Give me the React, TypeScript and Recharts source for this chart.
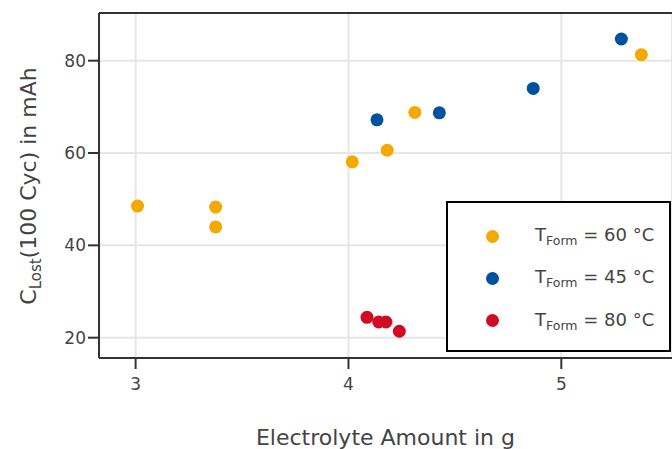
import {
  CartesianGrid,
  Legend,
  ReferenceLine,
  Scatter,
  ScatterChart,
  XAxis,
  YAxis,
} from 'recharts';

const FORM_60 = [
  { x: 3.009, y: 48.5 },
  { x: 3.376, y: 48.3 },
  { x: 3.376, y: 44.0 },
  { x: 4.018, y: 58.1 },
  { x: 4.182, y: 60.6 },
  { x: 4.312, y: 68.8 },
  { x: 5.376, y: 81.3 },
];

const FORM_45 = [
  { x: 4.134, y: 67.2 },
  { x: 4.427, y: 68.7 },
  { x: 4.868, y: 74.0 },
  { x: 5.282, y: 84.7 },
];

const FORM_80 = [
  { x: 4.087, y: 24.4 },
  { x: 4.142, y: 23.4 },
  { x: 4.176, y: 23.4 },
  { x: 4.239, y: 21.4 },
];

const X_TICKS = [3, 4, 5];
const Y_TICKS = [20, 40, 60, 80];

const SERIES = [
  { name: '60 °C', data: FORM_60, color: '#f5a800' },
  { name: '45 °C', data: FORM_45, color: '#00519e' },
  { name: '80 °C', data: FORM_80, color: '#d00b23' },
];

const FONT = '"DejaVu Sans", Verdana, sans-serif';
const TEXT = '#444';
const AXIS = '#333';

const Dot = (props: any) => {
  const { cx, cy, fill } = props;
  return <circle cx={cx} cy={cy} r={6.5} fill={fill} />;
};

const LegendBox = () => (
  <div
    style={{
      position: 'absolute',
      left: 446,
      top: 201,
      width: 221,
      height: 147,
      border: '2px solid #000',
      background: '#fff',
      fontFamily: FONT,
      color: TEXT,
    }}
  >
    {SERIES.map((s, i) => (
      <div
        key={s.name}
        style={{
          position: 'absolute',
          left: 0,
          top: 20 + i * 42.3,
          height: 26,
          display: 'flex',
          alignItems: 'center',
        }}
      >
        <span
          style={{
            position: 'absolute',
            left: 38,
            width: 13,
            height: 13,
            borderRadius: '50%',
            background: s.color,
          }}
        />
        <span style={{ position: 'absolute', left: 87, fontSize: 18, whiteSpace: 'nowrap' }}>
          T<sub style={{ fontSize: 12.5, verticalAlign: '-4px' }}>Form</sub> = {s.name}
        </span>
      </div>
    ))}
  </div>
);

const YLabel = () => (
  <text
    x={0}
    y={0}
    transform="translate(36, 186) rotate(-90)"
    textAnchor="middle"
    fill={TEXT}
    fontFamily={FONT}
    fontSize={22}
  >
    C<tspan fontSize={15} dy={5}>Lost</tspan>
    <tspan dy={-5}>(100 Cyc) in mAh</tspan>
  </text>
);

export default function App() {
  return (
    <div style={{ position: 'absolute', left: 0, top: 0, background: '#fff' }}>
      <ScatterChart
        width={672}
        height={449}
        margin={{ top: 13, right: 0, bottom: 0, left: 0 }}
      >
        <CartesianGrid stroke="#e6e6e6" strokeWidth={2} />
        <XAxis
          type="number"
          dataKey="x"
          domain={[2.828, 5.52]}
          ticks={X_TICKS}
          height={91}
          stroke={AXIS}
          strokeWidth={2}
          tickSize={11}
          tick={{ fill: TEXT, fontSize: 17, fontFamily: FONT, dy: 7 }}
          label={{
            value: 'Electrolyte Amount in g',
            position: 'insideBottom',
            offset: 4,
            fill: TEXT,
            fontSize: 22,
            fontFamily: FONT,
          }}
          allowDataOverflow
        />
        <YAxis
          type="number"
          dataKey="y"
          domain={[15.6, 90.33]}
          ticks={Y_TICKS}
          width={99}
          stroke={AXIS}
          strokeWidth={2}
          tickSize={11}
          tick={{ fill: TEXT, fontSize: 17, fontFamily: FONT, dx: 0 }}
          label={<YLabel />}
          allowDataOverflow
        />
        <ReferenceLine y={90.33} stroke={AXIS} strokeWidth={2} />
        {SERIES.map((s) => (
          <Scatter
            key={s.name}
            name={s.name}
            data={s.data}
            fill={s.color}
            shape={<Dot />}
            isAnimationActive={false}
          />
        ))}
        <Legend content={() => <LegendBox />} wrapperStyle={{ left: 0, top: 0, width: 0, height: 0 }} />
      </ScatterChart>
    </div>
  );
}
